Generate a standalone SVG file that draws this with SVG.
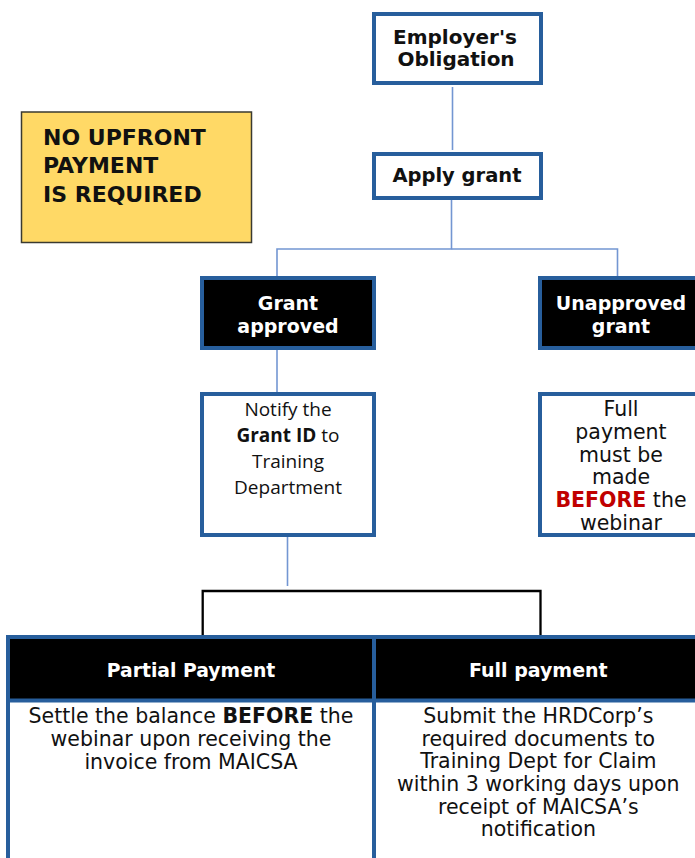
<svg xmlns="http://www.w3.org/2000/svg" width="695" height="858" viewBox="0 0 695 858">
<style>
.box{fill:#fff;stroke:#275E9C;stroke-width:4}
.dark{fill:#000;stroke:#275E9C;stroke-width:4}
.conn{stroke:#7396D2;stroke-width:1.6;fill:none}
.bracket{stroke:#000;stroke-width:2.3;fill:none}
.b{font-family:"DejaVu Sans",sans-serif;font-weight:bold;text-anchor:middle}
.r{font-family:"DejaVu Sans",sans-serif;text-anchor:middle}
.o{font-family:"Open Sans",sans-serif;text-anchor:middle;font-size:19px;fill:#111}
.w{fill:#fff}
.k{fill:#111}
</style>
<rect width="695" height="858" fill="#fff"/>
<g id="connectors">
<line class="conn" x1="452.5" y1="87" x2="452.5" y2="150"/>
<polyline class="conn" points="451.5,200 451.5,249 277,249 277,280"/>
<polyline class="conn" points="451.5,249 617.5,249 617.5,280"/>
<line class="conn" x1="277" y1="350" x2="277" y2="394"/>
<line class="conn" x1="287.5" y1="531" x2="287.5" y2="586"/>
<polyline class="bracket" points="202.7,637 202.7,591 540.5,591 540.5,637"/>
</g>
<g id="note">
<rect x="21.5" y="112" width="230" height="130.5" fill="#FFD966" stroke="#3a3a30" stroke-width="1.5"/>
<text class="b k" x="43" y="145" font-size="22" text-anchor="start" style="text-anchor:start">NO UPFRONT</text>
<text class="b k" x="43" y="173" font-size="22" style="text-anchor:start">PAYMENT</text>
<text class="b k" x="43" y="201.5" font-size="22" style="text-anchor:start">IS REQUIRED</text>
</g>
<g id="employer">
<rect class="box" x="374" y="14" width="167" height="69"/>
<text class="b k" x="455" y="43.5" font-size="20">Employer's</text>
<text class="b k" x="456" y="66" font-size="20">Obligation</text>
</g>
<g id="apply">
<rect class="box" x="374" y="154" width="167" height="44"/>
<text class="b k" x="457" y="182" font-size="19.5">Apply grant</text>
</g>
<g id="approved">
<rect class="dark" x="202" y="278" width="172" height="70"/>
<text class="b w" x="288" y="310" font-size="19">Grant</text>
<text class="b w" x="288" y="333" font-size="19">approved</text>
</g>
<g id="unapproved">
<rect class="dark" x="540" y="278" width="200" height="70"/>
<text class="b w" x="621" y="310" font-size="19">Unapproved</text>
<text class="b w" x="621" y="333" font-size="19">grant</text>
</g>
<g id="notify">
<rect class="box" x="202" y="394" width="172" height="141"/>
<text class="o" x="288" y="416">Notify the</text>
<text class="o" x="288" y="442"><tspan font-weight="bold">Grant ID</tspan> to</text>
<text class="o" x="288" y="468">Training</text>
<text class="o" x="288" y="493.5">Department</text>
</g>
<g id="fullpay">
<rect class="box" x="540" y="394" width="200" height="141"/>
<text class="r k" x="621" y="416" font-size="20.5">Full</text>
<text class="r k" x="621" y="438.5" font-size="20.5">payment</text>
<text class="r k" x="621" y="461.5" font-size="20.5">must be</text>
<text class="r k" x="621" y="484" font-size="20.5">made</text>
<text class="r k" x="621" y="507" font-size="20.5"><tspan font-weight="bold" fill="#C00000">BEFORE</tspan> the</text>
<text class="r k" x="621" y="530" font-size="20.5">webinar</text>
</g>
<g id="table">
<rect x="8" y="637" width="720" height="63.5" fill="#000"/>
<rect x="8" y="637" width="720" height="240" fill="none" stroke="#275E9C" stroke-width="4"/>
<line x1="8" y1="700.5" x2="728" y2="700.5" stroke="#275E9C" stroke-width="4"/>
<line x1="374" y1="637" x2="374" y2="877" stroke="#275E9C" stroke-width="4"/>
</g>
<g id="partial">
<text class="b w" x="191" y="677" font-size="18.8">Partial Payment</text>
<text class="r k" x="191" y="722.7" font-size="20.5">Settle the balance <tspan font-weight="bold">BEFORE</tspan> the</text>
<text class="r k" x="191" y="745.7" font-size="20.5">webinar upon receiving the</text>
<text class="r k" x="191" y="768.5" font-size="20.5">invoice from MAICSA</text>
</g>
<g id="full">
<text class="b w" x="538.3" y="677" font-size="19">Full payment</text>
<text class="r k" x="538.3" y="722.7" font-size="20.5">Submit the HRDCorp’s</text>
<text class="r k" x="538.3" y="745.5" font-size="20.5">required documents to</text>
<text class="r k" x="538.3" y="768.3" font-size="20.5">Training Dept for Claim</text>
<text class="r k" x="538.3" y="791" font-size="20.5">within 3 working days upon</text>
<text class="r k" x="538.3" y="813.5" font-size="20.5">receipt of MAICSA’s</text>
<text class="r k" x="538.3" y="836" font-size="20.5">notification</text>
</g>
</svg>
